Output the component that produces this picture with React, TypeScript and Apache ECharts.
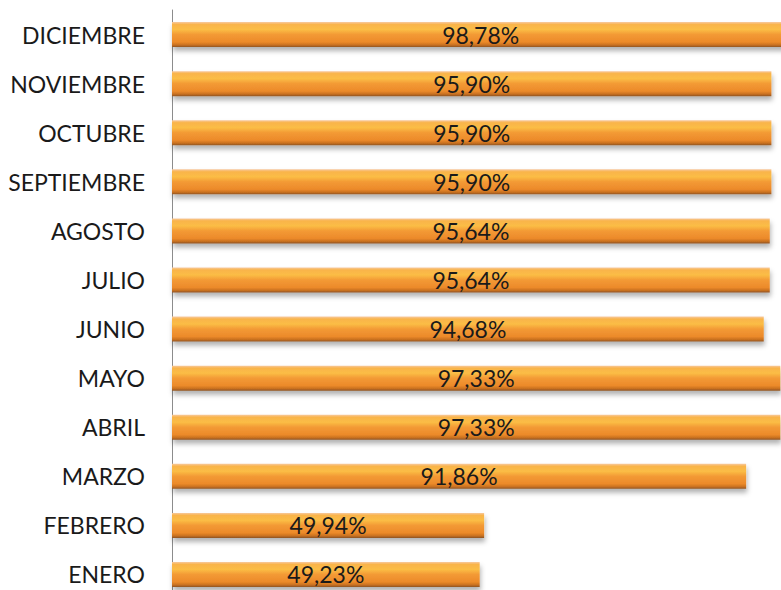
import React, { useEffect, useRef } from "react";
import * as echarts from "echarts";

const categories = [
  "ENERO",
  "FEBRERO",
  "MARZO",
  "ABRIL",
  "MAYO",
  "JUNIO",
  "JULIO",
  "AGOSTO",
  "SEPTIEMBRE",
  "OCTUBRE",
  "NOVIEMBRE",
  "DICIEMBRE",
];
const values = [49.23, 49.94, 91.86, 97.33, 97.33, 94.68, 95.64, 95.64, 95.9, 95.9, 95.9, 98.78];

export default function App() {
  const ref = useRef<HTMLDivElement>(null);
  useEffect(() => {
    document.body.style.margin = "0";
    document.body.style.overflow = "hidden";
    const chart = echarts.init(ref.current!, null, { renderer: "svg" });
    const font = "Lato, 'Open Sans', sans-serif";
    chart.setOption({
      animation: false,
      backgroundColor: "#ffffff",
      grid: { left: 172, right: 0, top: 10, bottom: 0, containLabel: false },
      xAxis: {
        type: "value",
        min: 0,
        max: 100,
        show: false,
        splitLine: { show: false },
      },
      yAxis: {
        type: "category",
        data: categories,
        axisLine: { show: true, lineStyle: { color: "#8c8c8c", width: 1 } },
        axisTick: { show: false },
        axisLabel: {
          color: "#1a1a1a",
          fontSize: 23,
          fontFamily: font,
          margin: 27,
        },
      },
      series: [
        {
          type: "bar",
          data: values,
          barWidth: 25,
          itemStyle: {
            color: new echarts.graphic.LinearGradient(0, 0, 0, 1, [
              { offset: 0, color: "#f7c9a0" },
              { offset: 0.1, color: "#f9b44a" },
              { offset: 0.3, color: "#fbbd45" },
              { offset: 0.5, color: "#f39a35" },
              { offset: 0.8, color: "#ec8a2a" },
              { offset: 0.92, color: "#c8701f" },
              { offset: 1, color: "#8f5424" },
            ]),
            shadowColor: "rgba(0,0,0,0.3)",
            shadowBlur: 5,
            shadowOffsetX: 1,
            shadowOffsetY: 4,
          },
          label: {
            show: true,
            position: "inside",
            color: "#1a1a1a",
            fontSize: 23,
            fontFamily: font,
            formatter: (p: any) => p.value.toFixed(2).replace(".", ",") + "%",
          },
        },
      ],
    });
    return () => chart.dispose();
  }, []);
  return <div ref={ref} style={{ width: 797, height: 599 }} />;
}
